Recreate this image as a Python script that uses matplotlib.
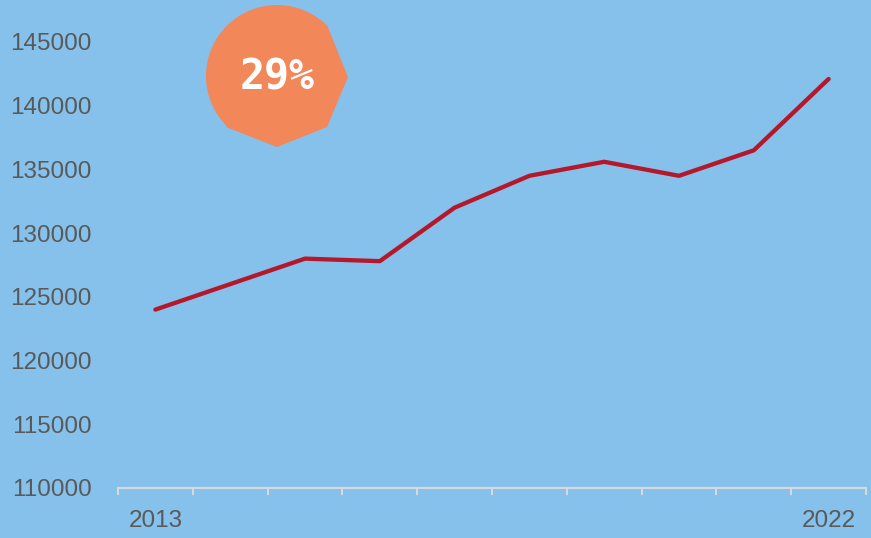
import numpy as np
import matplotlib
matplotlib.use("Agg")
import matplotlib.pyplot as plt
from matplotlib.patches import Polygon

# --------------------------------------------------
# DATA
# --------------------------------------------------
years = [2013, 2014, 2015, 2016, 2017, 2018, 2019, 2020, 2021, 2022]
values = [124000, 126000, 128000, 127800, 132000, 134500, 135600, 134500, 136500, 142100]
yticks = [110000, 115000, 120000, 125000, 130000, 135000, 140000, 145000]
shown_years = ["2013", "2022"]
badge_text = "29%"

BG = "#85C1EA"
LINE = "#B5182B"
BADGE = "#F2875A"
GREY = "#595959"
AXIS = "#D9D9D9"

W, H = 871, 538
fig = plt.figure(figsize=(W / 100, H / 100), dpi=100)
fig.patch.set_facecolor(BG)

# axes placed in pixel terms
left, right, bottom, top = 118, 866, 488, 42
ax = fig.add_axes([left / W, 1 - bottom / H, (right - left) / W, (bottom - top) / H])
ax.set_facecolor(BG)

x = np.arange(len(years))
ax.plot(x, values, color=LINE, lw=3.1, solid_capstyle="round", clip_on=False)

ax.set_xlim(-0.5, len(years) - 0.5)
ax.set_ylim(110000, 145000)

for s in ["top", "right", "left"]:
    ax.spines[s].set_visible(False)
ax.spines["bottom"].set_color(AXIS)
ax.spines["bottom"].set_linewidth(1.5)

ax.set_yticks(yticks)
ax.set_yticklabels([str(v) for v in yticks])
ax.tick_params(axis="y", length=0, pad=19, labelsize=17.5, labelcolor=GREY)

ax.set_xticks([0, len(years) - 1])
ax.set_xticklabels(shown_years)
ax.set_xticks(np.arange(-0.5, len(years)), minor=True)
ax.tick_params(axis="x", which="major", length=0, pad=16, labelsize=17.5, labelcolor=GREY)
ax.tick_params(axis="x", which="minor", length=5, width=1.5, color=AXIS, direction="out")

for lab in ax.get_xticklabels() + ax.get_yticklabels():
    lab.set_fontfamily("Liberation Sans")

# --------------------------------------------------
# BADGE (round on the left, cut flat on the right)
# --------------------------------------------------
cx, cy, r = 277, 76, 71
pts = [(327, 25), (348, 77), (327, 127), (277, 147), (226, 127)]
# arc from bottom-left round through left and top back to top-right
for a in np.linspace(np.deg2rad(135), np.deg2rad(312), 80):
    pts.append((cx + r * np.cos(a), cy + r * np.sin(a)))
pts_fig = [(px / W, 1 - py / H) for px, py in pts]
fig.patches.append(Polygon(pts_fig, closed=True, transform=fig.transFigure,
                           facecolor=BADGE, edgecolor="none"))
fig.text(277 / W, 1 - 77 / H, badge_text, color="white", fontsize=30,
         fontweight="bold", family="DejaVu Sans Mono", ha="center", va="center")

fig.savefig("out.png", dpi=100, facecolor=BG)
